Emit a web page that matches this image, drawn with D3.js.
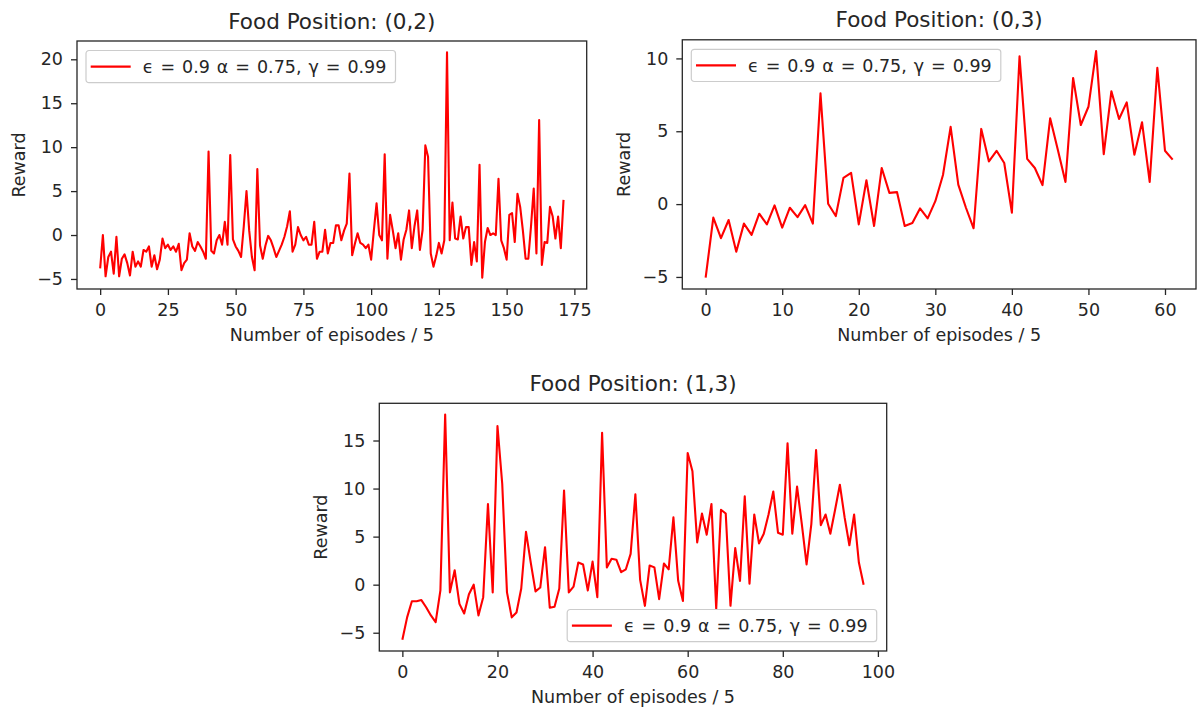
<!DOCTYPE html>
<html>
<head>
<meta charset="utf-8">
<script src="https://cdn.jsdelivr.net/npm/d3@7"></script>
<style>
  html, body { margin: 0; padding: 0; background: #fff; }
  svg { display: block; }
  text { font-family: "DejaVu Sans", sans-serif; fill: #262626; }
</style>
</head>
<body>
<svg id="chart" width="1200" height="708"></svg>
<script>
// ---- data ----
const titles = ["Food Position: (0,2)", "Food Position: (0,3)", "Food Position: (1,3)"];
const legendLabel = "ϵ = 0.9 α = 0.75, γ = 0.99";
const xLabel = "Number of episodes / 5";
const yLabel = "Reward";

const rewards02 = [
  -3.8, 0.0, -4.7, -2.5, -1.9, -4.4, -0.2, -4.7, -2.7, -2.2,
  -3.2, -4.6, -1.9, -3.6, -3.0, -3.6, -1.7, -1.9, -1.3, -3.6,
  -2.3, -3.9, -2.8, -0.4, -1.5, -1.1, -1.7, -1.3, -1.9, -1.0,
  -4.0, -3.2, -2.8, 0.2, -1.3, -1.8, -0.8, -1.3, -1.9, -2.7,
  9.5, -1.8, -2.1, -0.6, 0.0, -1.1, 1.5, -1.1, 9.1, -0.5,
  -1.3, -1.8, -2.5, 1.0, 5.0, 0.5, -2.5, -4.0, 7.5, -1.2,
  -2.7, -1.2, -0.1, -0.6, -1.5, -2.5, -1.8, -1.1, -0.2, 1.0,
  2.7, -1.9, -1.1, 0.9, 0.0, -0.6, -0.2, -1.1, -1.1, 1.5,
  -2.7, -1.9, -1.9, 0.6, -2.1, -0.9, -0.9, 1.1, 1.1, -0.6,
  0.5, 1.3, 7.0, -2.3, -1.0, 0.2, -0.9, -1.1, -1.5, -1.1,
  -2.8, 0.5, 3.6, 0.0, -0.6, 9.2, -2.7, 2.3, 0.5, -1.5,
  0.2, -2.8, -0.5, 0.6, 2.8, -1.5, 1.0, 2.8, -1.7, 0.6,
  10.2, 8.9, -2.1, -3.6, -2.4, -0.9, -2.1, -0.6, 20.8, -0.6,
  3.7, -0.4, -0.5, 2.1, -0.4, 0.9, 0.9, -3.4, -0.8, -3.0,
  8.0, -4.86, -0.8, 0.8, 0.0, 0.2, 0.0, 6.4, -0.6, -1.5,
  -2.8, 2.3, 2.5, -0.8, 4.7, 3.2, 0.5, -2.7, -2.7, 1.0,
  5.3, -2.1, 13.1, -3.4, -0.8, -0.9, 3.2, 2.1, -0.4, 2.1,
  -1.5, 4.0
];

const rewards03 = [
  -5.05, -0.93, -2.34, -1.09, -3.27, -1.34, -2.11, -0.66, -1.39, -0.09,
  -1.61, -0.25, -0.89, -0.07, -1.34, 7.6, 0.02, -0.82, 1.8, 2.14,
  -1.39, 1.64, -1.5, 2.48, 0.77, 0.82, -1.5, -1.3, -0.3, -0.98,
  0.2, 2.0, 5.3, 1.34, -0.25, -1.66, 5.16, 2.93, 3.66, 2.82,
  -0.59, 10.14, 3.1, 2.48, 1.3, 5.89, 3.73, 1.52, 8.66, 5.43,
  6.68, 10.5, 3.43, 7.75, 5.84, 6.98, 3.39, 5.62, 1.52, 9.35,
  3.66, 3.05
];

const rewards13 = [
  -5.73, -3.4, -1.73, -1.73, -1.6, -2.35, -3.2, -3.9, -0.6, 17.7,
  -0.8, 1.5, -2.0, -3.0, -1.0, 0.0, -3.2, -1.3, 8.4, -0.8,
  16.5, 10.5, -0.8, -3.4, -2.9, -0.4, 5.5, 2.3, -0.7, -0.3,
  3.9, -2.4, -2.3, -0.4, 9.8, -0.8, -0.2, 2.3, 2.1, -0.6,
  2.4, -1.3, 15.8, 1.8, 2.7, 2.6, 1.3, 1.6, 3.2, 9.4,
  0.5, -2.2, 2.0, 1.8, -1.5, 2.2, 1.6, 7.0, 0.4, -1.7,
  13.7, 11.8, 4.4, 7.4, 5.2, 8.4, -2.5, 7.8, 7.4, -2.2,
  3.8, 0.4, 9.2, 0.1, 7.3, 4.3, 5.3, 7.3, 9.7, 5.4,
  5.2, 14.7, 5.3, 10.2, 6.3, 2.1, 6.3, 14.0, 6.2, 7.3,
  5.3, 7.8, 10.4, 7.0, 4.1, 7.3, 2.3, 0.0
];

const xTicks02 = [0, 25, 50, 75, 100, 125, 150, 175];
const yTicks02 = [-5, 0, 5, 10, 15, 20];
const xTicks03 = [0, 10, 20, 30, 40, 50, 60];
const yTicks03 = [-5, 0, 5, 10];
const xTicks13 = [0, 20, 40, 60, 80, 100];
const yTicks13 = [-5, 0, 5, 10, 15];

// ---- layout ----
const panels = [
  { title: titles[0], values: rewards02, xTicks: xTicks02, yTicks: yTicks02,
    left: 77, right: 586.7, top: 41, bottom: 289, legend: "ul" },
  { title: titles[1], values: rewards03, xTicks: xTicks03, yTicks: yTicks03,
    left: 682.3, right: 1196, top: 39.8, bottom: 289, legend: "ul" },
  { title: titles[2], values: rewards13, xTicks: xTicks13, yTicks: yTicks13,
    left: 379.3, right: 886.7, top: 403.3, bottom: 651, legend: "lr" }
];

const FS = 17.5;        // 10pt text
const TITLE_FS = 21.5;  // 12pt text
const fmt = v => (v < 0 ? "\u2212" + Math.abs(v) : String(v));

const svg = d3.select("#chart");
svg.append("rect").attr("width", 1200).attr("height", 708).attr("fill", "#fff");

panels.forEach(p => {
  const n = p.values.length;
  const xMax = n - 1;
  const x = d3.scaleLinear()
    .domain([-0.05 * xMax, xMax * 1.05])
    .range([p.left, p.right]);
  const [lo, hi] = d3.extent(p.values);
  const r = hi - lo;
  const y = d3.scaleLinear()
    .domain([lo - 0.05 * r, hi + 0.05 * r])
    .range([p.bottom, p.top]);

  const g = svg.append("g");

  // line
  const line = d3.line().x((d, i) => x(i)).y(d => y(d));
  g.append("path")
    .datum(p.values)
    .attr("d", line)
    .attr("fill", "none")
    .attr("stroke", "#ff0000")
    .attr("stroke-width", 2.1)
    .attr("stroke-linejoin", "round");

  // axes
  const xAxis = d3.axisBottom(x).tickValues(p.xTicks).tickFormat(fmt)
    .tickSizeInner(6).tickSizeOuter(0).tickPadding(8.6);
  const yAxis = d3.axisLeft(y).tickValues(p.yTicks).tickFormat(fmt)
    .tickSizeInner(6).tickSizeOuter(0).tickPadding(8);

  const gx = g.append("g").attr("transform", `translate(0,${p.bottom})`).call(xAxis);
  const gy = g.append("g").attr("transform", `translate(${p.left},0)`).call(yAxis);
  [gx, gy].forEach(a => {
    a.select(".domain").remove();
    a.selectAll(".tick line").attr("stroke", "#262626").attr("stroke-width", 1.3);
    a.selectAll(".tick text")
      .attr("fill", "#262626")
      .style("font-family", '"DejaVu Sans", sans-serif')
      .style("font-size", FS + "px");
  });

  // frame
  g.append("rect")
    .attr("x", p.left).attr("y", p.top)
    .attr("width", p.right - p.left).attr("height", p.bottom - p.top)
    .attr("fill", "none").attr("stroke", "#262626").attr("stroke-width", 1.3);

  // title
  g.append("text")
    .attr("x", (p.left + p.right) / 2).attr("y", p.top - 12.5)
    .attr("text-anchor", "middle")
    .style("font-size", TITLE_FS + "px")
    .text(p.title);

  // axis labels
  g.append("text")
    .attr("x", (p.left + p.right) / 2).attr("y", p.bottom + 52)
    .attr("text-anchor", "middle")
    .style("font-size", FS + "px")
    .text(xLabel);
  const cy = (p.top + p.bottom) / 2;
  const lx = p.left - 52.3;
  g.append("text")
    .attr("transform", `translate(${lx},${cy}) rotate(-90)`)
    .attr("text-anchor", "middle")
    .style("font-size", FS + "px")
    .text(yLabel);

  // legend
  const lw = 309.5, lh = 32.2;
  const lxb = p.legend === "ul" ? p.left + 9 : p.right - 10 - lw;
  const lyb = p.legend === "ul" ? p.top + 9.5 : p.bottom - 9.3 - lh;
  const lg = g.append("g").attr("transform", `translate(${lxb},${lyb})`);
  lg.append("rect")
    .attr("x", 0).attr("y", 0).attr("width", lw).attr("height", lh)
    .attr("rx", 3).attr("ry", 3)
    .attr("fill", "#fff").attr("fill-opacity", 0.8)
    .attr("stroke", "#cccccc").attr("stroke-width", 1.2);
  lg.append("line")
    .attr("x1", 4.7).attr("x2", 44.7)
    .attr("y1", lh / 2).attr("y2", lh / 2)
    .attr("stroke", "#ff0000").attr("stroke-width", 2.1);
  lg.append("text")
    .attr("x", 56.7).attr("y", lh / 2 + 6.3)
    .style("font-size", FS + "px")
    .style("word-spacing", "1.4px")
    .text(legendLabel);
});
</script>
</body>
</html>
